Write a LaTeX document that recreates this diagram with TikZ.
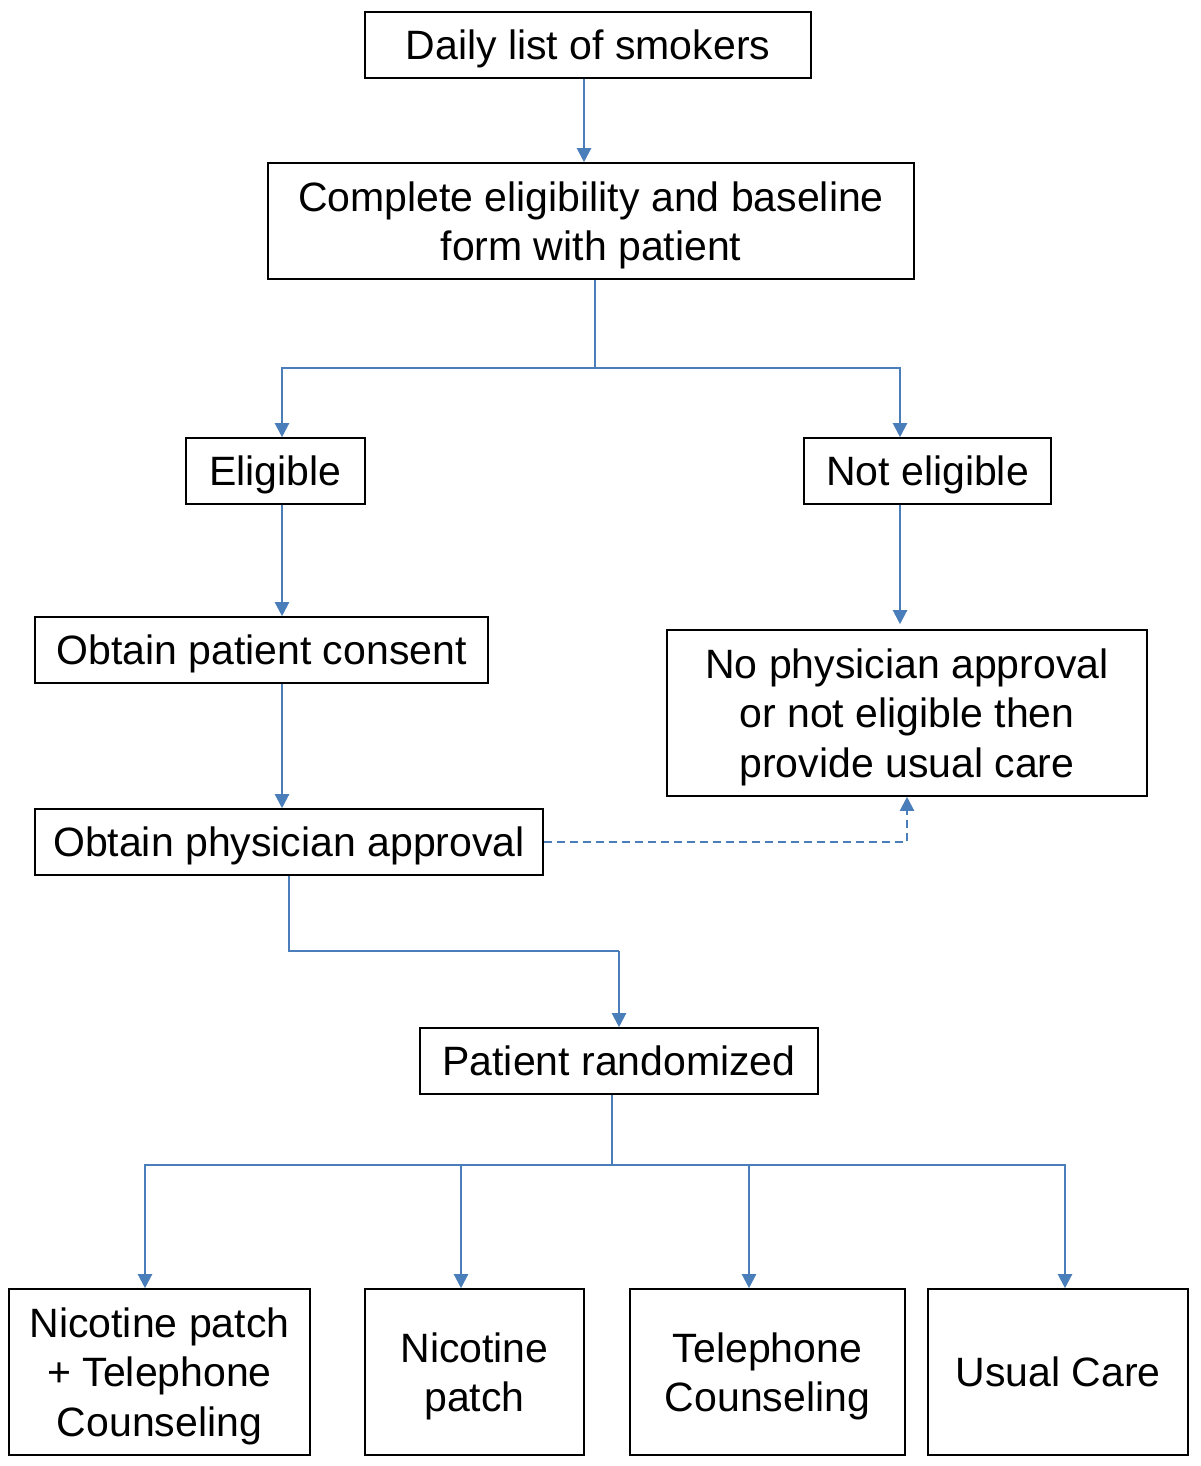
\documentclass[tikz,border=0pt]{standalone}
\usepackage{fontspec}
\setmainfont{Liberation Sans}
\usetikzlibrary{arrows.meta,calc}

\definecolor{linkblue}{RGB}{74,126,187}
\tikzstyle{box}=[draw,line width=1.6pt,inner sep=0pt,text depth=0pt,align=center,font=\fontsize{41}{49.5}\selectfont]
\tikzstyle{link}=[draw,line width=2.2pt,linkblue]

\begin{document}
\begin{tikzpicture}[x=1pt, y=-1pt, >={Triangle[width=14pt,length=14pt]}]
			\useasboundingbox (0,0) rectangle (1200,1466);
			\node [box,minimum width=446pt,minimum height=66pt]  (daily)    at (588,45)    {Daily list of smokers};
			\node [box,minimum width=646pt,minimum height=116pt] (complete) at (591,221)   {Complete eligibility and baseline\\form with patient};
			\node [box,minimum width=179pt,minimum height=66pt]  (elig)     at (275.5,471) {Eligible};
			\node [box,minimum width=247pt,minimum height=66pt]  (notelig)  at (927.5,471) {Not eligible};
			\node [box,minimum width=453pt,minimum height=66pt]  (consent)  at (261.5,650) {Obtain patient consent};
			\node [box,minimum width=480pt,minimum height=166pt] (noapp)    at (907,713)   {No physician approval\\or not eligible then\\provide usual care};
			\node [box,minimum width=508pt,minimum height=66pt]  (approval) at (289,842)   {Obtain physician approval};
			\node [box,minimum width=398pt,minimum height=66pt]  (random)   at (619,1061)  {Patient randomized};
			\node [box,minimum width=301pt,minimum height=166pt] (combo)    at (159.5,1372) {Nicotine patch\\+ Telephone\\Counseling};
			\node [box,minimum width=219pt,minimum height=166pt] (patch)    at (474.5,1372) {Nicotine\\patch};
			\node [box,minimum width=275pt,minimum height=166pt] (phone)    at (767.5,1372) {Telephone\\Counseling};
			\node [box,minimum width=260pt,minimum height=166pt] (usual)    at (1058,1372)  {Usual Care};

			\coordinate (dailyout)   at ($(daily.south)+(-4,0)$);
			\coordinate (compout)    at ($(complete.south)+(4,0)$);
			\coordinate (split1)     at (595,368);
			\coordinate (eligout)    at ($(elig.south)+(6.5,0)$);
			\coordinate (notout)     at ($(notelig.south)+(-27.5,0)$);
			\coordinate (consentout) at ($(consent.south)+(20.5,0)$);
			\coordinate (split2)     at (619,951);
			\coordinate (randout)    at ($(random.south)+(-7,0)$);
			\coordinate (split3)     at (612,1165);

			\draw [link,->] (dailyout) -- (dailyout |- complete.north);
			\draw [link] (compout) -- (split1);
			\draw [link,->] (split1) -| ($(elig.north)+(6.5,0)$);
			\draw [link,->] (split1) -| ($(notelig.north)+(-27.5,0)$);
			\draw [link,->] (eligout) -- (eligout |- consent.north);
			\draw [link,->,shorten >=5pt] (notout) -- (notout |- noapp.north);
			\draw [link,->] (consentout) -- (consentout |- approval.north);
			\draw [link,->,dash pattern=on 8pt off 5pt] (approval.east) -| (noapp.south);
			\draw [link] (approval.south) |- (split2);
			\draw [link,->] (split2) -- (random.north);
			\draw [link] (randout) -- (split3);
			\foreach \arm/\dx in {combo/-14.5, patch/-13.5, phone/-18.5, usual/7}
				\draw [link,->] (split3) -| ($(\arm.north)+(\dx,0)$);
	\end{tikzpicture}
\end{document}
